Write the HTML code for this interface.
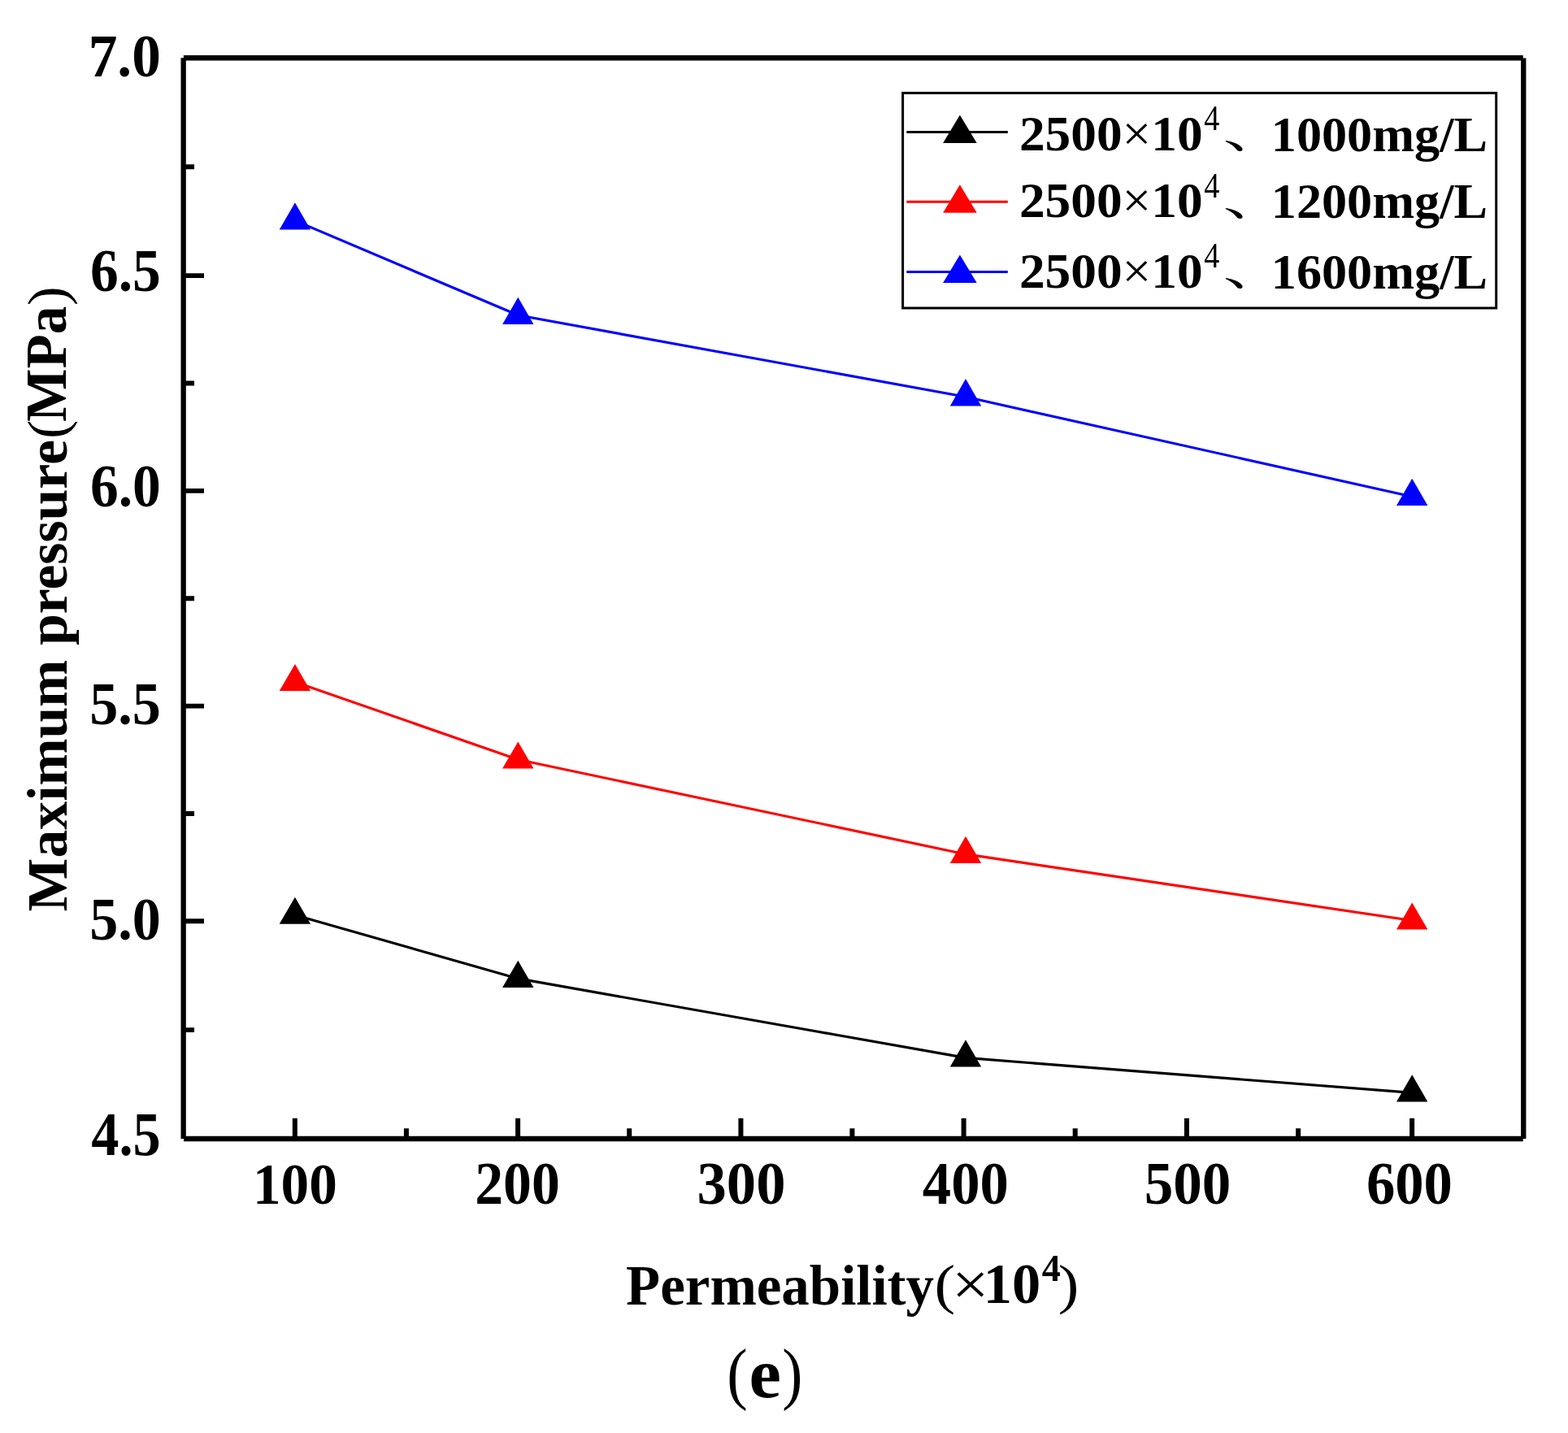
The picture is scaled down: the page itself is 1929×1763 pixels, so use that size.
<!DOCTYPE html>
<html><head><meta charset="utf-8"><title>Maximum pressure vs Permeability</title>
<style>html,body{margin:0;padding:0;background:#fff;}svg{display:block;}</style></head>
<body><svg width="1929" height="1763" viewBox="0 0 1929 1763">
<rect width="1929" height="1763" fill="#fff"/>
<path d="M362.9,1125.8 L637.3,1203.9 L1188.0,1301.4 L1737.2,1344.4" fill="none" stroke="#000000" stroke-width="3.1" stroke-linejoin="round"/>
<path d="M362.9,1103.7 L382.1,1136.8 L343.7,1136.8 Z" fill="#000000"/>
<path d="M637.3,1181.8 L656.5,1214.9 L618.1,1214.9 Z" fill="#000000"/>
<path d="M1188.0,1279.3 L1207.2,1312.5 L1168.8,1312.5 Z" fill="#000000"/>
<path d="M1737.2,1322.3 L1756.4,1355.5 L1718.0,1355.5 Z" fill="#000000"/>
<path d="M362.9,839.0 L637.3,934.5 L1188.0,1050.9 L1737.2,1132.5" fill="none" stroke="#FF0000" stroke-width="3.1" stroke-linejoin="round"/>
<path d="M362.9,816.9 L382.1,850.1 L343.7,850.1 Z" fill="#FF0000"/>
<path d="M637.3,912.4 L656.5,945.6 L618.1,945.6 Z" fill="#FF0000"/>
<path d="M1188.0,1028.8 L1207.2,1062.0 L1168.8,1062.0 Z" fill="#FF0000"/>
<path d="M1737.2,1110.4 L1756.4,1143.5 L1718.0,1143.5 Z" fill="#FF0000"/>
<path d="M362.9,271.4 L637.3,387.8 L1188.0,488.3 L1737.2,610.9" fill="none" stroke="#0000FF" stroke-width="3.1" stroke-linejoin="round"/>
<path d="M362.9,249.3 L382.1,282.5 L343.7,282.5 Z" fill="#0000FF"/>
<path d="M637.3,365.7 L656.5,398.9 L618.1,398.9 Z" fill="#0000FF"/>
<path d="M1188.0,466.1 L1207.2,499.4 L1168.8,499.4 Z" fill="#0000FF"/>
<path d="M1737.2,588.8 L1756.4,622.0 L1718.0,622.0 Z" fill="#0000FF"/>
<path d="M225.65,339.10 H251 M225.65,603.90 H251 M225.65,868.60 H251 M225.65,1133.30 H251 M225.65,205.20 H239 M225.65,471.50 H239 M225.65,736.25 H239 M225.65,1000.95 H239 M225.65,1267.15 H239" stroke="#000" stroke-width="5.9" fill="none"/>
<path d="M362.80,1400.95 V1375.7 M499.90,1400.95 V1388.2 M637.10,1400.95 V1375.7 M774.20,1400.95 V1388.2 M911.40,1400.95 V1375.7 M1048.40,1400.95 V1388.2 M1185.60,1400.95 V1375.7 M1322.70,1400.95 V1388.2 M1459.90,1400.95 V1375.7 M1597.10,1400.95 V1388.2 M1737.10,1400.95 V1375.7" stroke="#000" stroke-width="6" fill="none"/>
<path d="M225.65,71.3 V1400.9 M1874.25,71.5 V1400.9" stroke="#000" stroke-width="6.3" fill="none"/><path d="M225.9,71.3 H1873.7 M226,1400.95 H1873.7" stroke="#000" stroke-width="6.4" fill="none"/>
<rect x="1110.6" y="114.4" width="730.1" height="264.6" fill="#fff" stroke="#000" stroke-width="3"/>
<path d="M1115.3,162.5 H1239.8" stroke="#000000" stroke-width="3.1"/>
<path d="M1180.9,141.5 L1201.7,176.0 L1160.1,176.0 Z" fill="#000000"/>
<path d="M1115.3,248.3 H1239.8" stroke="#FF0000" stroke-width="3.1"/>
<path d="M1180.9,227.3 L1201.7,261.8 L1160.1,261.8 Z" fill="#FF0000"/>
<path d="M1115.3,334.5 H1239.8" stroke="#0000FF" stroke-width="3.1"/>
<path d="M1180.9,313.5 L1201.7,348.0 L1160.1,348.0 Z" fill="#0000FF"/>
<text transform="matrix(0.71304 0 0 0.73731 108.72 93.73)" font-size="100" font-family="'Liberation Serif', 'Times New Roman', serif" font-weight="bold" fill="#000">7.0</text>
<text transform="matrix(0.69492 0 0 0.73582 110.92 358.03)" font-size="100" font-family="'Liberation Serif', 'Times New Roman', serif" font-weight="bold" fill="#000">6.5</text>
<text transform="matrix(0.69492 0 0 0.73731 110.92 622.83)" font-size="100" font-family="'Liberation Serif', 'Times New Roman', serif" font-weight="bold" fill="#000">6.0</text>
<text transform="matrix(0.70085 0 0 0.74394 110.20 891.46)" font-size="100" font-family="'Liberation Serif', 'Times New Roman', serif" font-weight="bold" fill="#000">5.5</text>
<text transform="matrix(0.70085 0 0 0.73433 110.20 1155.53)" font-size="100" font-family="'Liberation Serif', 'Times New Roman', serif" font-weight="bold" fill="#000">5.0</text>
<text transform="matrix(0.68333 0 0 0.75152 112.32 1420.85)" font-size="100" font-family="'Liberation Serif', 'Times New Roman', serif" font-weight="bold" fill="#000">4.5</text>
<text transform="matrix(0.69203 0 0 0.72794 310.96 1481.04)" font-size="100" font-family="'Liberation Serif', 'Times New Roman', serif" font-weight="bold" fill="#000">100</text>
<text transform="matrix(0.69718 0 0 0.73881 584.21 1481.02)" font-size="100" font-family="'Liberation Serif', 'Times New Roman', serif" font-weight="bold" fill="#000">200</text>
<text transform="matrix(0.72535 0 0 0.73881 857.60 1481.02)" font-size="100" font-family="'Liberation Serif', 'Times New Roman', serif" font-weight="bold" fill="#000">300</text>
<text transform="matrix(0.70690 0 0 0.73881 1134.79 1481.02)" font-size="100" font-family="'Liberation Serif', 'Times New Roman', serif" font-weight="bold" fill="#000">400</text>
<text transform="matrix(0.71127 0 0 0.73881 1407.65 1481.02)" font-size="100" font-family="'Liberation Serif', 'Times New Roman', serif" font-weight="bold" fill="#000">500</text>
<text transform="matrix(0.70629 0 0 0.73881 1680.88 1481.02)" font-size="100" font-family="'Liberation Serif', 'Times New Roman', serif" font-weight="bold" fill="#000">600</text>
<text transform="matrix(0.63324 0 0 0.60441 1253.97 184.59)" font-size="100" font-family="'Liberation Serif', 'Times New Roman', serif" font-weight="bold" fill="#000">2500<tspan font-weight='normal'>×</tspan>10</text>
<text transform="matrix(0.38043 0 0 0.43385 1481.24 160.20)" font-size="100" font-family="'Liberation Serif', 'Times New Roman', serif" font-weight="normal" fill="#000">4</text>
<text transform="matrix(0.84000 0 0 0.52000 1504.14 181.84)" font-size="100" font-family="'Liberation Serif', 'Noto Serif CJK SC', 'Noto Sans CJK SC', serif" font-weight="normal" fill="#000">、</text>
<text transform="matrix(0.62217 0 0 0.62069 1563.82 185.67)" font-size="100" font-family="'Liberation Serif', 'Times New Roman', serif" font-weight="bold" fill="#000">1000mg/L</text>
<text transform="matrix(0.63324 0 0 0.60441 1253.97 267.39)" font-size="100" font-family="'Liberation Serif', 'Times New Roman', serif" font-weight="bold" fill="#000">2500<tspan font-weight='normal'>×</tspan>10</text>
<text transform="matrix(0.38043 0 0 0.43385 1481.24 243.00)" font-size="100" font-family="'Liberation Serif', 'Times New Roman', serif" font-weight="normal" fill="#000">4</text>
<text transform="matrix(0.84000 0 0 0.52000 1504.14 264.64)" font-size="100" font-family="'Liberation Serif', 'Noto Serif CJK SC', 'Noto Sans CJK SC', serif" font-weight="normal" fill="#000">、</text>
<text transform="matrix(0.62217 0 0 0.62069 1563.82 268.47)" font-size="100" font-family="'Liberation Serif', 'Times New Roman', serif" font-weight="bold" fill="#000">1200mg/L</text>
<text transform="matrix(0.63324 0 0 0.60441 1253.97 353.79)" font-size="100" font-family="'Liberation Serif', 'Times New Roman', serif" font-weight="bold" fill="#000">2500<tspan font-weight='normal'>×</tspan>10</text>
<text transform="matrix(0.38043 0 0 0.43385 1481.24 329.40)" font-size="100" font-family="'Liberation Serif', 'Times New Roman', serif" font-weight="normal" fill="#000">4</text>
<text transform="matrix(0.84000 0 0 0.52000 1504.14 351.04)" font-size="100" font-family="'Liberation Serif', 'Noto Serif CJK SC', 'Noto Sans CJK SC', serif" font-weight="normal" fill="#000">、</text>
<text transform="matrix(0.62217 0 0 0.62069 1563.82 354.87)" font-size="100" font-family="'Liberation Serif', 'Times New Roman', serif" font-weight="bold" fill="#000">1600mg/L</text>
<text transform="matrix(0.68921 0 0 0.68889 770.12 1604.73)" font-size="100" font-family="'Liberation Serif', 'Times New Roman', serif" font-weight="bold" fill="#000">Permeability</text>
<text transform="matrix(0.76923 0 0 0.66556 1149.42 1603.12)" font-size="100" font-family="'Liberation Serif', 'Times New Roman', serif" font-weight="normal" fill="#000">(</text>
<text transform="matrix(0.80750 0 0 0.73750 1171.04 1604.59)" font-size="100" font-family="'Liberation Serif', 'Times New Roman', serif" font-weight="normal" fill="#000">×</text>
<text transform="matrix(0.70455 0 0 0.69706 1209.86 1603.21)" font-size="100" font-family="'Liberation Serif', 'Times New Roman', serif" font-weight="bold" fill="#000">10</text>
<text transform="matrix(0.46170 0 0 0.47231 1281.84 1575.70)" font-size="100" font-family="'Liberation Serif', 'Times New Roman', serif" font-weight="bold" fill="#000">4</text>
<text transform="matrix(0.76923 0 0 0.66556 1301.69 1603.12)" font-size="100" font-family="'Liberation Serif', 'Times New Roman', serif" font-weight="normal" fill="#000">)</text>
<text transform="matrix(0 -0.69746 0.68889 0 82.03 1121.39)" font-size="100" font-family="'Liberation Serif', 'Times New Roman', serif" font-weight="bold" fill="#000">Maximum pressure</text>
<text transform="matrix(0 -0.69231 0.67222 0 81.38 539.77)" font-size="100" font-family="'Liberation Serif', 'Times New Roman', serif" font-weight="normal" fill="#000">(</text>
<text transform="matrix(0 -0.69307 0.71212 0 81.29 518.89)" font-size="100" font-family="'Liberation Serif', 'Times New Roman', serif" font-weight="bold" fill="#000">MPa</text>
<text transform="matrix(0 -0.71154 0.67222 0 81.38 375.93)" font-size="100" font-family="'Liberation Serif', 'Times New Roman', serif" font-weight="normal" fill="#000">)</text>
<text transform="matrix(0.76154 0 0 0.85667 894.15 1718.31)" font-size="100" font-family="'Liberation Serif', 'Times New Roman', serif" font-weight="normal" fill="#000">(</text>
<text transform="matrix(0.88718 0 0 0.86042 921.54 1718.94)" font-size="100" font-family="'Liberation Serif', 'Times New Roman', serif" font-weight="bold" fill="#000">e</text>
<text transform="matrix(0.75385 0 0 0.85667 962.14 1718.31)" font-size="100" font-family="'Liberation Serif', 'Times New Roman', serif" font-weight="normal" fill="#000">)</text>
</svg></body></html>
